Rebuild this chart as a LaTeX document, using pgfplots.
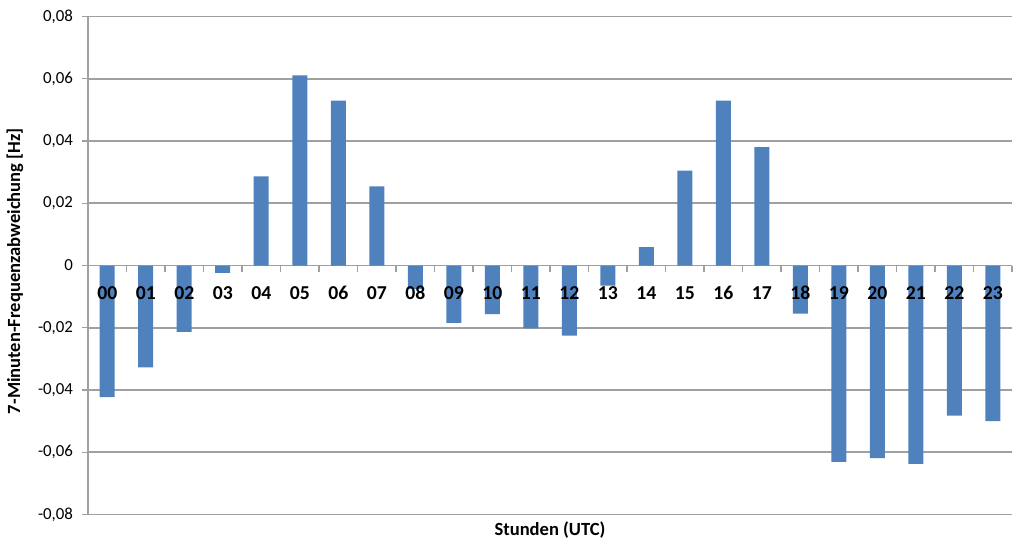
\documentclass[border=0pt]{standalone}
\usepackage{fontspec}
\setmainfont{Carlito}
\usepackage{pgfplots}
\pgfplotsset{compat=1.18}
\definecolor{barblue}{HTML}{4F81BD}
\definecolor{gridgray}{HTML}{A0A0A0}
\pgfplotsset{
  base/.style={
    at={(0,0)}, anchor=south west, scale only axis,
    width=231mm, height=124.5mm,
    xmin=-0.5, xmax=23.5, ymin=-0.08, ymax=0.08,
    axis y line=left, axis x line=middle,
    tick align=outside,
    major tick length=1.5mm, minor tick length=1.5mm,
    xtick={0,...,23},
    minor xtick={-0.5,0.5,...,23.5},
    major x tick style={draw=none},
    xticklabel style={font=\bfseries\fontsize{14}{14}\selectfont, anchor=base, yshift=-7mm},
    scaled y ticks=false,
  }
}
\begin{document}
\begin{tikzpicture}
\useasboundingbox (-22mm,-10.25mm) rectangle (234mm,128.625mm);
\begin{axis}[
  base,
  axis line style={-, draw=gridgray, line width=0.4mm},
  ymajorgrids, grid style={gridgray, line width=0.4mm},
  tick style={gridgray, line width=0.35mm},
  xticklabels=\empty,
  ytick={-0.08,-0.06,-0.04,-0.02,0,0.02,0.04,0.06,0.08},
  yticklabels={{-0,08},{-0,06},{-0,04},{-0,02},0,{0,02},{0,04},{0,06},{0,08}},
  yticklabel style={font=\fontsize{12}{12}\selectfont, xshift=-1.0mm},
  xlabel={Stunden (UTC)},
  ylabel={7-Minuten-Frequenzabweichung [Hz]},
  xlabel style={font=\bfseries\fontsize{13.2}{13.2}\selectfont, at={(axis description cs:0.5,0)}, anchor=center, yshift=-4mm},
  ylabel style={font=\bfseries\fontsize{13.2}{13.2}\selectfont, at={(axis description cs:0,0.5)}, anchor=center, yshift=18.25mm, xshift=-1.4mm},
  ybar, bar width=3.75mm, bar shift=0pt,
]
\addplot[fill=barblue, draw=none] coordinates {
(0,-0.0423) (1,-0.0327) (2,-0.0213) (3,-0.0024) (4,0.0286) (5,0.0611)
(6,0.0530) (7,0.0254) (8,-0.0075) (9,-0.0184) (10,-0.0156) (11,-0.0202)
(12,-0.0225) (13,-0.0065) (14,0.0059) (15,0.0305) (16,0.0530) (17,0.0380)
(18,-0.0155) (19,-0.0631) (20,-0.0619) (21,-0.0637) (22,-0.0482) (23,-0.0500)
};
\end{axis}
\begin{axis}[
  base,
  axis line style={draw=none},
  tick style={draw=none},
  ytick=\empty,
  xticklabels={00,01,02,03,04,05,06,07,08,09,10,11,12,13,14,15,16,17,18,19,20,21,22,23},
]
\end{axis}
\end{tikzpicture}
\end{document}
